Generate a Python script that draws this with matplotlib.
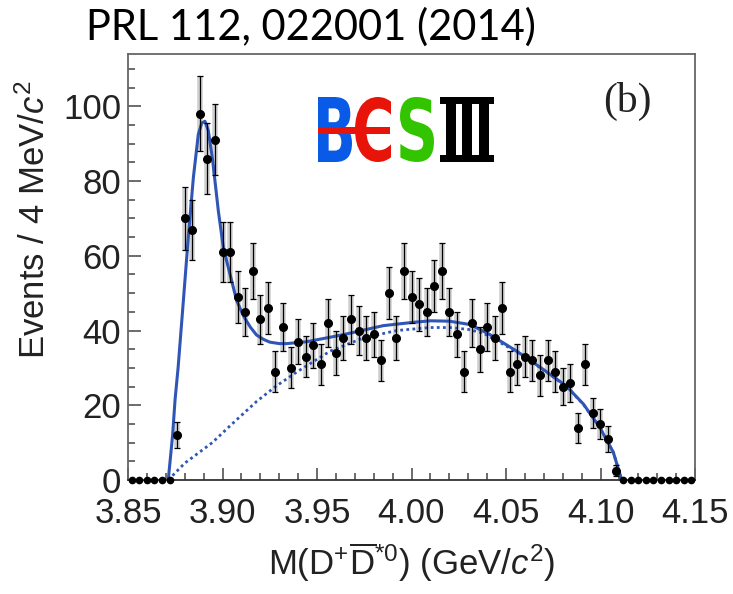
import numpy as np
import matplotlib
matplotlib.use('Agg')
import matplotlib.pyplot as plt
from matplotlib.textpath import TextPath
from matplotlib.font_manager import FontProperties
from matplotlib.patches import PathPatch, Rectangle
from matplotlib.transforms import Affine2D
from matplotlib.ticker import MultipleLocator, FormatStrFormatter

W, H = 733, 594

# bin centres (4 MeV bins) and events per bin
mass = [3.852, 3.856, 3.860, 3.864, 3.868, 3.872, 3.876, 3.880, 3.884, 3.888,
        3.892, 3.896, 3.900, 3.904, 3.908, 3.912, 3.916, 3.920, 3.924, 3.928,
        3.932, 3.936, 3.940, 3.944, 3.948, 3.952, 3.956, 3.960, 3.964, 3.968,
        3.972, 3.976, 3.980, 3.984, 3.988, 3.992, 3.996, 4.000, 4.004, 4.008,
        4.012, 4.016, 4.020, 4.024, 4.028, 4.032, 4.036, 4.040, 4.044, 4.048,
        4.052, 4.056, 4.060, 4.064, 4.068, 4.072, 4.076, 4.080, 4.084, 4.088,
        4.092, 4.096, 4.100, 4.104, 4.108, 4.112, 4.116, 4.120, 4.124, 4.128,
        4.132, 4.136, 4.140, 4.144, 4.148]
events = [0, 0, 0, 0, 0, 0, 12, 70, 67, 98,
          86, 91, 61, 61, 49, 45, 56, 43, 46, 29,
          41, 30, 37, 33, 36, 31, 42, 34, 38, 43,
          40, 38, 39, 32, 50, 38, 56, 49, 47, 45,
          52, 56, 45, 39, 29, 42, 35, 41, 38, 46,
          29, 31, 33, 32, 28, 32, 29, 25, 26, 14,
          31, 18, 15, 11, 2.5, 0, 0, 0, 0, 0,
          0, 0, 0, 0, 0]
errors = [0, 0, 0, 0, 0, 0, 3.5, 8.5, 8, 10,
          9.5, 9.5, 8, 8, 7, 6.5, 7.5, 6.5, 7, 5.5,
          6.5, 5.5, 6, 5.5, 6, 5.5, 6.5, 6, 6, 6.5,
          6.5, 6, 6, 5.5, 7, 6, 7.5, 7, 7, 6.5,
          7, 7.5, 6.5, 6, 5.5, 6.5, 6, 6.5, 6, 7,
          5.5, 5.5, 5.5, 5.5, 5.5, 5.5, 5.5, 5, 5, 4,
          5.5, 4, 4, 3.5, 1.5, 0, 0, 0, 0, 0,
          0, 0, 0, 0, 0]

# total fit (solid)
fit_m = [3.8713, 3.8736, 3.8749, 3.8765, 3.8793, 3.8819, 3.8846, 3.8872, 3.8890,
         3.8907, 3.8925, 3.8948, 3.8978, 3.9005, 3.9040, 3.9075, 3.9110, 3.9146,
         3.9180, 3.9218, 3.9250, 3.9300, 3.9340, 3.9445, 3.9600, 3.9675, 3.9780,
         3.9850, 4.0010, 4.0100, 4.0200, 4.0310, 4.0415, 4.0556, 4.0697, 4.0820,
         4.0910, 4.0997, 4.1068, 4.1112]
fit_n = [0, 12, 21.5, 30, 48, 65, 81, 92.5, 95.5,
         96, 93.5, 85.5, 72, 62, 55, 48, 44, 41,
         38.8, 37.6, 36.9, 36.5, 36.5, 37.0, 38.5, 39.3, 40.5,
         41.3, 42.2, 42.6, 42.5, 41.6, 38.9, 34.5, 29.6, 25.1,
         20.3, 14.0, 7.4, 0]

# background (dotted)
bkg_m = [3.8713, 3.8800, 3.8946, 3.9040, 3.9180, 3.9280, 3.9396, 3.9570, 3.9745,
         3.9922, 4.0098, 4.0204, 4.0300, 4.0380, 4.0556, 4.0697, 4.0820, 4.0910,
         4.0997, 4.1068, 4.1112]
bkg_n = [0, 4.5, 10, 14.5, 21, 25, 29, 34.5, 38,
         40, 40.8, 40.8, 40.3, 39.3, 34.3, 29.5, 25, 20.2,
         14, 7.4, 0]

plt.rcParams['font.family'] = 'Liberation Sans'
plt.rcParams['mathtext.fontset'] = 'custom'
plt.rcParams['mathtext.rm'] = 'Liberation Sans'
plt.rcParams['mathtext.it'] = 'Liberation Sans:italic'

fig = plt.figure(figsize=(W / 100, H / 100), dpi=100)
ax = fig.add_axes([128 / W, 1 - 480 / H, (695 - 128) / W, (480 - 54) / H])

m = np.array(mass)
n = np.array(events)
e = np.array(errors)
nz = n > 0

blue = '#2f55b5'
ax.plot(bkg_m, bkg_n, color=blue, lw=2, ls=(0, (1, 1.2)), zorder=2)
ax.plot(fit_m, fit_n, color=blue, lw=2.2, zorder=3)

ax.errorbar(m[nz], n[nz], yerr=e[nz], fmt='none', ecolor='#cfcfcf',
            elinewidth=4, capsize=0, zorder=1)
ax.errorbar(m[nz], n[nz], yerr=e[nz], fmt='o', color='black', ms=5.5,
            elinewidth=0.9, capsize=2.5, capthick=0.9, zorder=4)
ax.plot(m[~nz], n[~nz], 'o', color='black', ms=4.5, zorder=4, clip_on=False)

ax.set_xlim(3.85, 4.15)
ax.set_ylim(0, 114)
ax.xaxis.set_major_locator(MultipleLocator(0.05))
ax.xaxis.set_minor_locator(MultipleLocator(0.01))
ax.xaxis.set_major_formatter(FormatStrFormatter('%.2f'))
ax.yaxis.set_major_locator(MultipleLocator(20))
ax.yaxis.set_minor_locator(MultipleLocator(5))
ax.tick_params(which='both', direction='in', top=False, right=False,
               labelsize=25, labelcolor='#222222', color='#444444', width=1.1)
ax.tick_params(which='major', length=9)
ax.tick_params(which='minor', length=5)
ax.tick_params(axis='x', pad=12)
ax.tick_params(axis='y', pad=5)
for s in ax.spines.values():
    s.set_color('#666666')
    s.set_linewidth(1.3)
ax.spines['bottom'].set_color('#333333')

ax.set_ylabel('Events / 4 MeV/$c^{2}$', fontsize=25, color='#222222')
ax.yaxis.set_label_coords(-0.135, 0.61)
ax.set_xlabel(r'M(D$^{+}\overline{\mathrm{D}}^{*0}$) (GeV/$c^{2}$)',
              fontsize=25, color='#222222', labelpad=8)

fig.text(627 / W, 1 - 101 / H, '(b)', fontsize=30, family='Liberation Serif',
         color='#222222', ha='center', va='center')

fig.text(86 / W, 1 - 40 / H, 'PRL 112, 022001 (2014)', fontsize=30,
         family='Lato', color='black', ha='left', va='baseline')


# BESIII logo, glyphs fitted into pixel boxes (top-left origin)
def glyph(ch, x0, y0, x1, y1, color):
    tp = TextPath((0, 0), ch, size=1,
                  prop=FontProperties(family='DejaVu Sans', weight='bold'))
    ext = tp.get_extents()
    tr = (Affine2D().translate(-ext.x0, -ext.y0)
          .scale((x1 - x0) / ext.width, (y1 - y0) / ext.height)
          .translate(x0, H - y1).scale(1 / W, 1 / H))
    fig.add_artist(PathPatch(tr.transform_path(tp), color=color, lw=0,
                             transform=fig.transFigure))


def box(x0, y0, x1, y1, color):
    fig.add_artist(Rectangle((x0 / W, 1 - y1 / H), (x1 - x0) / W, (y1 - y0) / H,
                             color=color, lw=0, transform=fig.transFigure))


glyph('B', 318, 97, 352, 162, '#0a5ae8')
glyph('C', 355, 97, 391, 162, '#e8140a')
box(318, 127, 390, 134, '#e8140a')
glyph('S', 400, 97, 434, 162, '#33c400')
box(440, 97, 494, 104, 'black')
box(440, 155, 494, 162, 'black')
for sx in (446, 462, 479):
    box(sx, 97, sx + 10, 162, 'black')

fig.savefig('out.png', dpi=100)
